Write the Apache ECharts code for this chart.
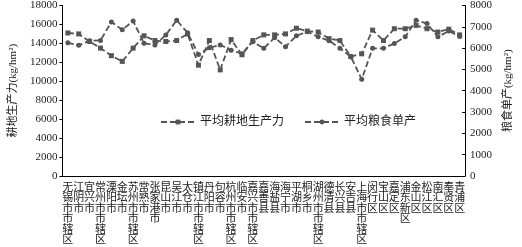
<!DOCTYPE html>
<html><head><meta charset="utf-8">
<script src="https://cdn.jsdelivr.net/npm/echarts@6/dist/echarts.min.js"></script>
<style>html,body{margin:0;padding:0;background:#fff}#c{width:522px;height:247px}</style>
</head><body><div id="c"></div>
<script>
const categories = ["无锡市市辖区","江阴市","宜兴市","常州市市辖区","溧阳市","金坛市","苏州市市辖区","常熟市","张家港市","昆山市","吴江市","太仓市","镇江市市辖区","丹阳市","句容市","杭州市市辖区","临安市","嘉兴市市辖区","嘉善县","海盐县","海宁市","平湖市","桐乡市","湖州市市辖区","德清县","长兴县","安吉县","上海市市辖区","闵行区","宝山区","嘉定区","浦东新区","金山区","松江区","南汇区","奉贤区","青浦区"];
const productivity = [15100,15000,14200,13500,12700,12100,13500,14800,14300,14200,14300,15000,11700,14300,11200,14400,12800,14300,14900,14900,15000,15600,15300,15200,14500,14300,12600,12900,15400,14300,15550,15550,15900,15550,15200,15500,14900];
const grainYield = [6250,6130,6350,6360,7230,6860,7270,6230,6150,6610,7310,6720,5700,6020,6150,5900,5740,6300,5990,6490,6070,6580,6770,6530,6350,5990,5600,4540,5990,5990,6220,6530,7310,7150,6530,6800,6550];
const leftTicks = [0,18000,2000];
const rightTicks = [0,8000,1000];
const names = ["平均耕地生产力","平均粮食单产"];

const ff = "'Liberation Serif','Noto Sans CJK SC',serif";
const chart = echarts.init(document.getElementById('c'), null, {renderer:'canvas'});
chart.setOption({
  animation:false,
  grid:{left:45,right:45,top:4,bottom:71},
  legend:{top:111,left:155,itemGap:20,itemWidth:34,itemHeight:6,
    textStyle:{fontFamily:ff,fontSize:12,color:'#222'},
    data:[{name:names[0]},{name:names[1]}]},
  xAxis:{type:'category',data:categories,boundaryGap:true,
    axisLine:{lineStyle:{color:'#000',width:1}},
    axisTick:{inside:true,length:3,lineStyle:{color:'#000'}},
    axisLabel:{interval:0,margin:7,fontFamily:ff,fontSize:11,color:'#222',lineHeight:10.4,
      formatter:v=>v.split('').join('\n')}},
  yAxis:[
    {type:'value',min:leftTicks[0],max:leftTicks[1],interval:leftTicks[2],
     name:'耕地生产力(kg/hm²)',nameLocation:'middle',nameGap:36,nameRotate:90,
     nameTextStyle:{fontFamily:ff,fontSize:11,color:'#222'},
     axisLine:{show:true,lineStyle:{color:'#000'}},axisTick:{show:true,length:3,lineStyle:{color:'#000'}},
     splitLine:{show:false},axisLabel:{fontFamily:ff,fontSize:11,color:'#222',margin:5,formatter:v=>String(v)}},
    {type:'value',min:rightTicks[0],max:rightTicks[1],interval:rightTicks[2],position:'right',
     name:'粮食单产(kg/hm²)',nameLocation:'middle',nameGap:32,nameRotate:90,
     nameTextStyle:{fontFamily:ff,fontSize:11,color:'#222'},
     axisLine:{show:true,lineStyle:{color:'#000'}},axisTick:{show:true,inside:true,length:3,lineStyle:{color:'#000'}},
     splitLine:{show:false},axisLabel:{fontFamily:ff,fontSize:11,color:'#222',margin:5,formatter:v=>String(v)}}
  ],
  series:[
    {name:names[0],type:'line',yAxisIndex:0,data:productivity,symbol:'rect',symbolSize:5,
     lineStyle:{type:[6,3],width:1.8,color:'#555'},itemStyle:{color:'#555'}},
    {name:names[1],type:'line',yAxisIndex:1,data:grainYield,symbol:'circle',symbolSize:5,
     lineStyle:{type:[6,3],width:1.8,color:'#555'},itemStyle:{color:'#555'}}
  ]
});
</script></body></html>
